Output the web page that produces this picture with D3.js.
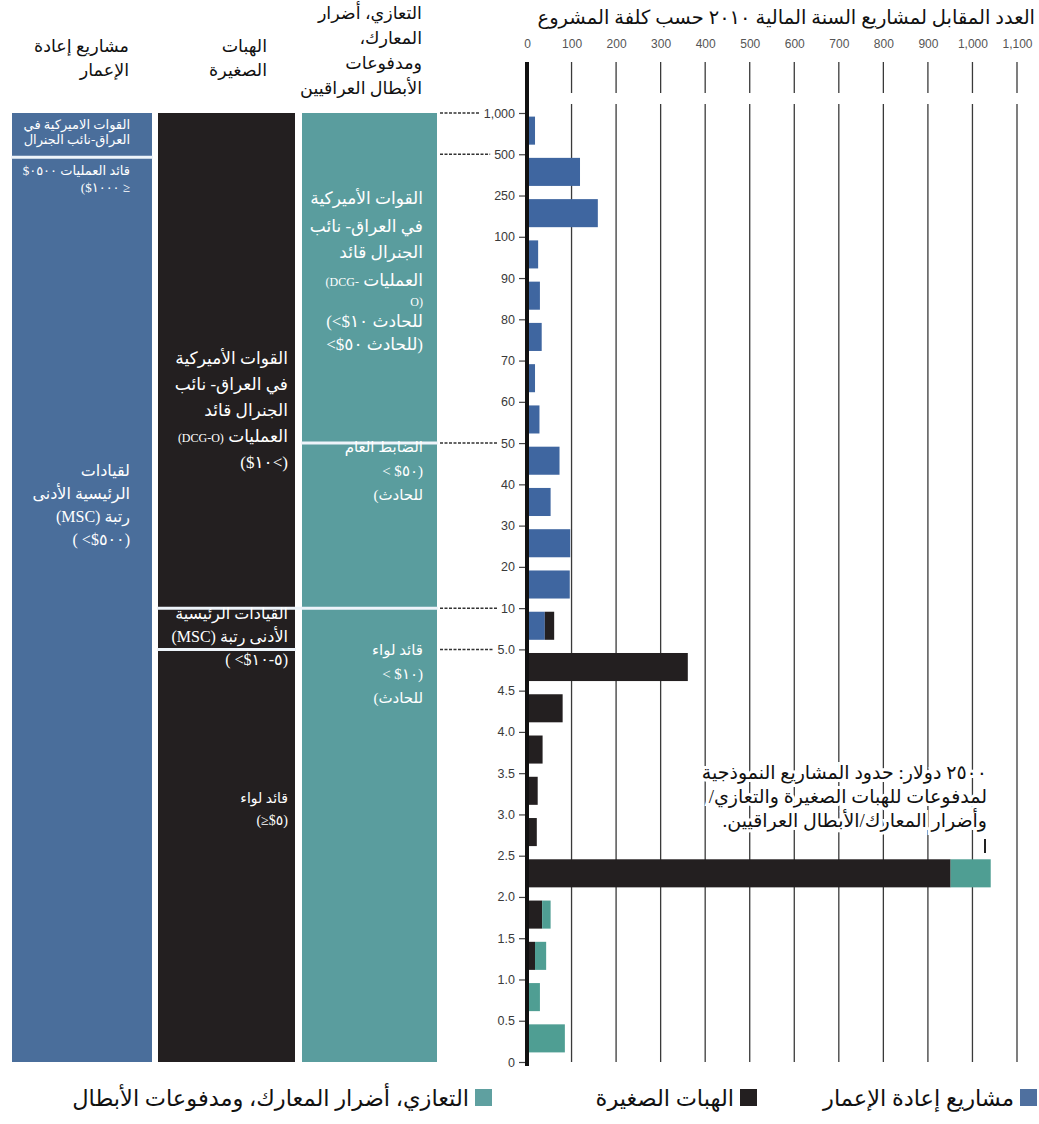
<!DOCTYPE html>
<html>
<head>
<meta charset="utf-8">
<script src="https://cdn.jsdelivr.net/npm/d3@7"></script>
<style>
  body { margin: 0; background: #fff; }
  svg { display: block; }
  .ar { font-family: "Liberation Serif", "DejaVu Sans", sans-serif; }
  .tick-x, .tick-y { font-family: "Liberation Sans Narrow", "Liberation Sans", sans-serif; }
</style>
</head>
<body>
<div id="chart"></div>
<script>
// tick labels of the cost axis, top to bottom ($ thousands)
const costTicks = ["1,000", "500", "250", "100", "90", "80", "70", "60", "50", "40", "30", "20", "10",
    "5.0", "4.5", "4.0", "3.5", "3.0", "2.5", "2.0", "1.5", "1.0", "0.5", "0"];
// one bar per interval between two ticks
const costBands = d3.range(costTicks.length - 1);
const reconstruction = [18, 119, 159, 25, 29, 33, 18, 28, 73, 53, 97, 96, 40, 0, 0, 0, 0, 0, 0, 0, 0, 0, 0];
const smallGrants   = [0, 0, 0, 0, 0, 0, 0, 0, 0, 0, 0, 0, 21, 361, 80, 35, 24, 22, 951, 34, 18, 3, 0];
const condolence    = [0, 0, 0, 0, 0, 0, 0, 0, 0, 0, 0, 0, 0, 0, 0, 0, 0, 0, 90, 19, 25, 26, 85];
const countTicks = [0, 100, 200, 300, 400, 500, 600, 700, 800, 900, 1000, 1100];
const leaderTicks = ["1,000", "500", "50", "10", "5.0"];

const title = "العدد المقابل لمشاريع السنة المالية ٢٠١٠ حسب كلفة المشروع";
const seriesNames = ["مشاريع إعادة الإعمار", "الهبات الصغيرة", "التعازي، أضرار المعارك، ومدفوعات الأبطال"];
const colours = ["#3f66a0", "#231f20", "#4f9e93"];
const panelColours = ["#4a6e9b", "#231f20", "#5a9d9e"];
const legendColours = ["#4f709f", "#231f20", "#5fa0a0"];

const width = 1039, height = 1124;
const svg = d3.select("#chart").append("svg")
    .attr("width", width)
    .attr("height", height);

const x = d3.scaleLinear().domain([0, 1100]).range([527, 1017]);
const yTick = d3.scalePoint().domain(costTicks).range([113, 1062]);
const yBar = d3.scaleBand().domain(costBands).range([110, 1059]).paddingInner(0.32).paddingOuter(0.16);

// helper for right-aligned arabic lines; a line may be a string or a list of [text, size] parts
const rtlText = (g, lines, xRight, y0, step, size, fill) => {
    const t = g.append("g");
    let y = y0;
    lines.forEach((line, i) => {
        const el = t.append("text")
            .attr("class", "ar")
            .attr("x", xRight)
            .attr("y", y)
            .attr("direction", "rtl")
            .attr("text-anchor", "start")
            .style("font-size", size + "px")
            .attr("fill", fill);
        if (typeof line === "string") el.text(line);
        else line.forEach(([s, fs]) => el.append("tspan").style("font-size", (fs || size) + "px").text(s));
        y += Array.isArray(step) ? (step[i] || 0) : step;
    });
    return t;
};

// ---- left panels ----
const panels = [
    { x0: 12, x1: 152 },
    { x0: 158, x1: 295 },
    { x0: 302, x1: 437 }
];
panels.forEach((p, i) => {
    svg.append("rect")
        .attr("x", p.x0).attr("y", yTick("1,000"))
        .attr("width", p.x1 - p.x0)
        .attr("height", yTick("0") - yTick("1,000"))
        .attr("fill", panelColours[i]);
});

// dividers inside the panels
const dividers = [
    { col: 0, at: "500", dy: 3 },
    { col: 2, at: "50", dy: 0 },
    { col: 1, at: "10", dy: 0 },
    { col: 2, at: "10", dy: 0 },
    { col: 1, at: "5.0", dy: 0 }
];
dividers.forEach(d => {
    const p = panels[d.col];
    svg.append("line")
        .attr("x1", p.x0 - 1).attr("x2", d.col === 1 && d.at === "10" ? p.x1 + 7 : p.x1 + 1)
        .attr("y1", yTick(d.at) + d.dy).attr("y2", yTick(d.at) + d.dy)
        .attr("stroke", "#eef4fa")
        .attr("stroke-width", 3);
});

// column headers
rtlText(svg, ["مشاريع إعادة", "الإعمار"], 129, 52, 24, 17.5, "#111");
rtlText(svg, ["الهبات", "الصغيرة"], 267, 52, 24, 17.5, "#111");
rtlText(svg, ["التعازي، أضرار", "المعارك،", "ومدفوعات", "الأبطال العراقيين"], 422, 19, 25, 17.5, "#111");

// panel labels
rtlText(svg, ["القوات الاميركية في", "العراق-نائب الجنرال"], 130, 129, 15, 13, "#fff");
rtlText(svg, ["قائد العمليات ٠٥٠٠$", "≤ ١٠٠٠$)"], 130, 175, 17, 13, "#fff");
rtlText(svg, ["لقيادات", "الرئيسية الأدنى", "رتبة (MSC)", "(٥٠٠$> )"], 130, 476, 23, 16, "#fff");

rtlText(svg, ["القوات الأميركية", "في العراق- نائب", "الجنرال قائد", [["العمليات "], ["\u200E(DCG-O)\u200E", 12]], "(>١٠$)"],
    288, 364, 26, 17, "#fff");
rtlText(svg, ["القيادات الرئيسية", "الأدنى رتبة (MSC)", "(٥-١٠$> )"], 288, 619, 23, 16, "#fff");
rtlText(svg, ["قائد لواء", "(٥$≤)"], 288, 803, 22, 14, "#fff");

rtlText(svg, ["القوات الأميركية", "في العراق- نائب", "الجنرال قائد", [["العمليات "], ["\u200E(DCG-\u200E", 12]], [["\u200EO)\u200E", 12]],
        "للحادث ١٠$>)", "(للحادث ٥٠$>"],
    423, 204, [28, 26, 28, 20, 21, 23], 17, "#fff");
rtlText(svg, ["الضابط العام", "(٥٠$ >", "للحادث)"], 423, 452, 24, 15, "#fff");
rtlText(svg, ["قائد لواء", "(١٠$ >", "للحادث)"], 423, 655, 24, 15, "#fff");

// ---- grid ----
const grid = svg.append("g");
countTicks.slice(1).forEach(v => {
    grid.append("line")
        .attr("x1", x(v)).attr("x2", x(v))
        .attr("y1", 62).attr("y2", 93)
        .attr("stroke", "#3a3a3a").attr("stroke-width", 1.3);
    grid.append("line")
        .attr("x1", x(v)).attr("x2", x(v))
        .attr("y1", 104).attr("y2", yTick("0"))
        .attr("stroke", "#3a3a3a").attr("stroke-width", 1.3);
});

// top axis labels
const xAxis = svg.append("g")
    .attr("transform", "translate(0,51)")
    .call(d3.axisTop(x).tickValues(countTicks).tickSize(0).tickFormat(d3.format(",")));
xAxis.select(".domain").remove();
xAxis.selectAll("text")
    .attr("class", "tick-x")
    .style("font-size", "12px")
    .attr("fill", "#555");

// title
svg.append("text")
    .attr("class", "ar")
    .attr("x", 1035).attr("y", 24)
    .attr("direction", "rtl")
    .attr("text-anchor", "start")
    .style("font-size", "19.5px")
    .attr("fill", "#111")
    .text(title);

// ---- bars ----
const stacks = costBands.map(i => {
    const r = reconstruction[i], s = smallGrants[i], c = condolence[i];
    return [
        { i, s: 0, e: r, k: 0 },
        { i, s: r, e: r + s, k: 1 },
        { i, s: r + s, e: r + s + c, k: 2 }
    ].filter(d => d.e > d.s);
}).flat();

svg.append("g").selectAll("rect")
    .data(stacks)
    .join("rect")
    .attr("x", d => x(d.s))
    .attr("y", d => yBar(d.i))
    .attr("width", d => x(d.e) - x(d.s))
    .attr("height", yBar.bandwidth())
    .attr("fill", d => colours[d.k]);

// ---- left axis ----
const yAxis = svg.append("g")
    .attr("transform", `translate(${x(0)},0)`)
    .call(d3.axisLeft(yTick).tickSize(8).tickPadding(4));
yAxis.select(".domain").remove();
yAxis.selectAll("line").attr("stroke", "#444").attr("stroke-width", 1.2);
yAxis.selectAll("text")
    .attr("class", "tick-y")
    .style("font-size", "12.5px")
    .attr("fill", "#3a3a3a");

svg.append("line")
    .attr("x1", x(0)).attr("x2", x(0))
    .attr("y1", 62).attr("y2", yTick("0") + 4)
    .attr("stroke", "#111").attr("stroke-width", 4);

// dashed leaders from the panels to the axis
yAxis.selectAll(".tick").each(function(d) {
    if (!leaderTicks.includes(d)) return;
    const w = d3.select(this).select("text").node().getComputedTextLength();
    svg.append("line")
        .attr("x1", 440).attr("x2", x(0) - 12 - w - 4)
        .attr("y1", yTick(d)).attr("y2", yTick(d))
        .attr("stroke", "#333").attr("stroke-width", 1.5)
        .attr("stroke-dasharray", "3,1.5");
});

// ---- annotation ----
const note = rtlText(svg, ["٢٥٠٠ دولار: حدود المشاريع النموذجية", "لمدفوعات للهبات الصغيرة والتعازي/", "وأضرار المعارك/الأبطال العراقيين."],
    987, 779, 24, 19, "#111");
note.selectAll("text")
    .attr("stroke", "#fff").attr("stroke-width", 6)
    .attr("paint-order", "stroke");
svg.append("line")
    .attr("x1", 985).attr("x2", 985)
    .attr("y1", 839).attr("y2", 853)
    .attr("stroke", "#222").attr("stroke-width", 2);

// ---- legend ----
const legendItems = [
    { sq: 1020, tx: 1014 },
    { sq: 740, tx: 734 },
    { sq: 475, tx: 469 }
];
legendItems.forEach((l, i) => {
    svg.append("rect")
        .attr("x", l.sq).attr("y", 1089)
        .attr("width", 17).attr("height", 17)
        .attr("fill", legendColours[i]);
    svg.append("text")
        .attr("class", "ar")
        .attr("x", l.tx).attr("y", 1106)
        .attr("direction", "rtl")
        .attr("text-anchor", "start")
        .style("font-size", "22.5px")
        .attr("fill", "#111")
        .text(seriesNames[i]);
});
</script>
</body>
</html>
